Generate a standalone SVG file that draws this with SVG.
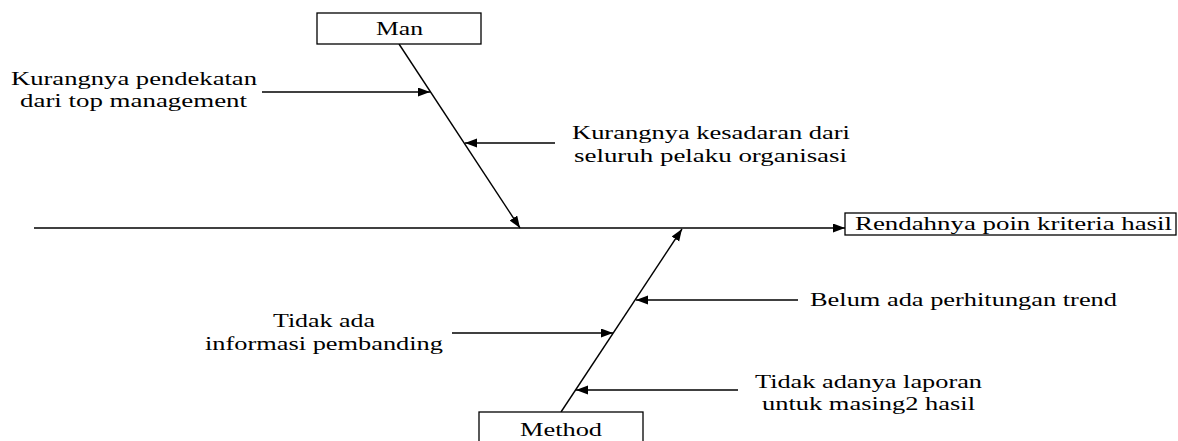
<svg xmlns="http://www.w3.org/2000/svg" width="1178" height="441" viewBox="0 0 1178 441">
<style>
.t{font-family:"Liberation Serif","Times New Roman",serif;font-size:19px;fill:#000}
.box{fill:#fff;stroke:#000;stroke-width:1.3}
.ln{stroke:#000;stroke-width:1.4;fill:none;marker-end:url(#ah)}
</style>
<defs>
<marker id="ah" markerUnits="userSpaceOnUse" markerWidth="13" markerHeight="10" refX="12" refY="4.5" orient="auto">
<path d="M0,0 L12,4.5 L0,9 z" fill="#000"/>
</marker>
</defs>
<rect width="1178" height="441" fill="#fff"/>
<g id="connectors">
<line class="ln" x1="34" y1="228" x2="845" y2="228"/>
<line class="ln" x1="399" y1="44" x2="520" y2="228"/>
<line class="ln" x1="561" y1="412" x2="682" y2="229"/>
<line class="ln" x1="262" y1="92" x2="430" y2="92"/>
<line class="ln" x1="555" y1="143" x2="465" y2="143"/>
<line class="ln" x1="798" y1="300" x2="636" y2="300"/>
<line class="ln" x1="452" y1="333" x2="613" y2="333"/>
<line class="ln" x1="738" y1="390" x2="576" y2="390"/>
</g>
<g id="man">
<rect class="box" x="317" y="13" width="164" height="31"/>
<text class="t" x="376" y="35" textLength="47" lengthAdjust="spacingAndGlyphs">Man</text>
</g>
<g id="method">
<rect class="box" x="479" y="412" width="164" height="40"/>
<text class="t" x="520" y="436" textLength="82" lengthAdjust="spacingAndGlyphs">Method</text>
</g>
<g id="effect">
<rect class="box" x="845" y="213" width="331" height="22"/>
<text class="t" x="855" y="230" textLength="317" lengthAdjust="spacingAndGlyphs">Rendahnya poin kriteria hasil</text>
</g>
<g id="cause-pendekatan">
<text class="t" x="11" y="85" textLength="246" lengthAdjust="spacingAndGlyphs">Kurangnya pendekatan</text>
<text class="t" x="20" y="107" textLength="227" lengthAdjust="spacingAndGlyphs">dari top management</text>
</g>
<g id="cause-kesadaran">
<text class="t" x="572" y="139" textLength="278" lengthAdjust="spacingAndGlyphs">Kurangnya kesadaran dari</text>
<text class="t" x="574" y="162" textLength="273" lengthAdjust="spacingAndGlyphs">seluruh pelaku organisasi</text>
</g>
<g id="cause-trend">
<text class="t" x="810" y="306" textLength="307" lengthAdjust="spacingAndGlyphs">Belum ada perhitungan trend</text>
</g>
<g id="cause-pembanding">
<text class="t" x="273" y="327" textLength="102" lengthAdjust="spacingAndGlyphs">Tidak ada</text>
<text class="t" x="205" y="350" textLength="238" lengthAdjust="spacingAndGlyphs">informasi pembanding</text>
</g>
<g id="cause-laporan">
<text class="t" x="755" y="388" textLength="227" lengthAdjust="spacingAndGlyphs">Tidak adanya laporan</text>
<text class="t" x="762" y="410" textLength="213" lengthAdjust="spacingAndGlyphs">untuk masing2 hasil</text>
</g>
</svg>
